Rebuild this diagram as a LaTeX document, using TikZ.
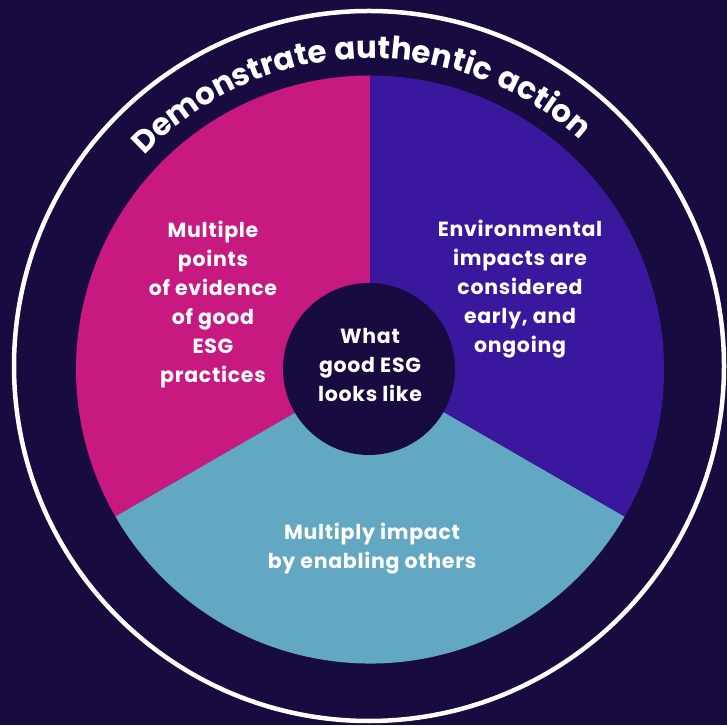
\documentclass[tikz,border=0pt]{standalone}
\usepackage{fontspec}
\setmainfont{Poppins}
\newfontfamily\labelfont{Poppins}[LetterSpace=3.5]
\newfontfamily\titlefont{Poppins}[LetterSpace=2.5]
\usetikzlibrary{decorations.text}

\definecolor{navy}{HTML}{170B3F}
\definecolor{esgmagenta}{HTML}{C7197F}
\definecolor{esgpurple}{HTML}{3A189E}
\definecolor{esgteal}{HTML}{63A8C3}

\begin{document}
\begin{tikzpicture}[x=1pt,y=1pt,
  lbl/.style={text=white, font=\labelfont\bfseries\fontsize{20.5}{29}\selectfont, align=center, inner sep=0pt}]
  % background and canvas
  \fill[navy] (0,0) rectangle (727,725);
  \useasboundingbox (0,0) rectangle (727,725);

  \coordinate (c) at (370,355.5);
  \def\R{294}

  % three sectors of the pie
  \fill[esgmagenta] (c) -- ++(90:\R) arc[start angle=90, end angle=210, radius=\R] -- cycle;
  \fill[esgteal]    (c) -- ++(210:\R) arc[start angle=210, end angle=330, radius=\R] -- cycle;
  \fill[esgpurple]  (c) -- ++(-30:\R) arc[start angle=-30, end angle=90, radius=\R] -- cycle;

  % hub
  \node[circle, fill=navy, minimum size=172, inner sep=0pt] (hub) at (369,356) {};

  % outer ring
  \coordinate (ringc) at (369,359);
  \draw[white, line width=4.5] (ringc) circle[radius=355];

  % curved heading
  \path[decorate, decoration={text along path, text align=center,
      text={|\titlefont\bfseries\fontsize{31}{31}\selectfont\color{white}|Demonstrate authentic action}}]
    (c) ++(182:311) arc[start angle=182, end angle=2, radius=311];

  % labels
  \node[lbl] (hubtext) at (370,360) {What\\good ESG\\looks like};
  \node[lbl] (evidence) at (213,420.3) {Multiple\\points\\of evidence\\of good\\ESG\\practices};
  \node[lbl] (environment) at (520,436) {Environmental\\impacts are\\considered\\early, and\\ongoing};
  \node[lbl] (enabling) at (372,176) {Multiply impact\\by enabling others};
\end{tikzpicture}
\end{document}
